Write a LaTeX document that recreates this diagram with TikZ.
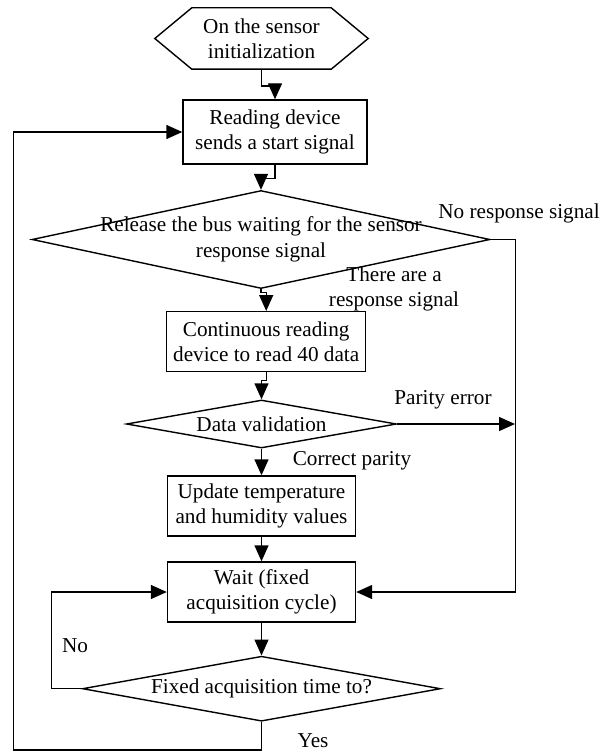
\documentclass[tikz,border=0pt]{standalone}
\usepackage{fontspec}
\setmainfont{Liberation Serif}
\usetikzlibrary{arrows.meta,shapes.geometric}
\begin{document}
\begin{tikzpicture}[x=1bp,y=-1bp,
  every node/.style={font=\fontsize{21.2bp}{25.5bp}\selectfont, inner sep=0pt},
  procbox/.style={draw, line width=1.4bp, align=center},
  decision/.style={diamond, draw, line width=1.4bp, inner sep=0pt},
  conn/.style={line width=1.4bp},
  flow/.style={line width=1.4bp, -{Triangle[length=16bp,width=14bp]}}]
\useasboundingbox (0,0) rectangle (600,753);

% start (hexagon)
\node[minimum width=213bp, minimum height=61bp, align=center] (start) at (261.5,38.5) {On the sensor\\initialization};
\draw[conn] (start.west) -- ([xshift=37bp]start.north west) -- ([xshift=-37bp]start.north east)
  -- (start.east) -- ([xshift=-37bp]start.south east) -- ([xshift=37bp]start.south west) -- cycle;

\node[procbox, minimum width=184bp, minimum height=64bp] (box1) at (275,132) {Reading device\\sends a start signal};

\node[decision, minimum width=458bp, minimum height=98bp] (d1) at (261,239.5) {};
\node[align=center] (d1t) at (d1.center) {Release the bus waiting for the sensor\\response signal};

\node[procbox, minimum width=199bp, minimum height=60bp] (box2) at (266.2,341.7) {Continuous reading\\device to read 40 data};

\node[decision, minimum width=270bp, minimum height=48bp] (d2) at (261.5,424) {};
\node (d2t) at (d2.center) {Data validation};

\node[procbox, minimum width=188bp, minimum height=60bp] (box3) at (261.5,506) {Update temperature\\and humidity values};

\node[procbox, minimum width=188bp, minimum height=60bp] (wait) at (261.5,592) {Wait (fixed\\acquisition cycle)};

\node[decision, minimum width=358bp, minimum height=65bp] (d3) at (261.5,688.7) {};
\node (d3t) at (d3.center) {Fixed acquisition time to?};

% labels
\node (lnr) at (519,213) {No response signal};
\node[align=center] (lyes1) at (394,289) {There are a\\response signal};
\node (lpe) at (443,400) {Parity error};
\node (lcp) at (352,461) {Correct parity};
\node (lno) at (75,646) {No};
\node[anchor=base] (lyes) at (313,747) {Yes};

% connectors
\coordinate (yescorner) at (13.3,749.8);
\coordinate (perr) at (515,424);

\draw[flow] (start.south) -- ++(0,17) -| (box1.north);
\draw[flow] (box1.south) -- ++(0,14) -| (d1.north);
\draw[flow] (d1.south) -- ++(0,3.5) -| (box2.north);
\draw[flow] (box2.south) -- ++(0,8) -| (d2.north);
\draw[flow] (d2.south) -- (box3.north);
\draw[flow] (box3.south) -- (wait.north);
\draw[flow] (wait.south) -- (d3.north);
\draw[flow] (d3.west) -- ++(-30.5,0) |- (wait.west);
\draw[flow] (d3.south) |- (yescorner) |- (box1.west);
\draw[flow] (d1.east) -- ++(25,0) |- (wait.east);
\draw[flow] (d2.east) -- (perr);
\end{tikzpicture}
\end{document}
